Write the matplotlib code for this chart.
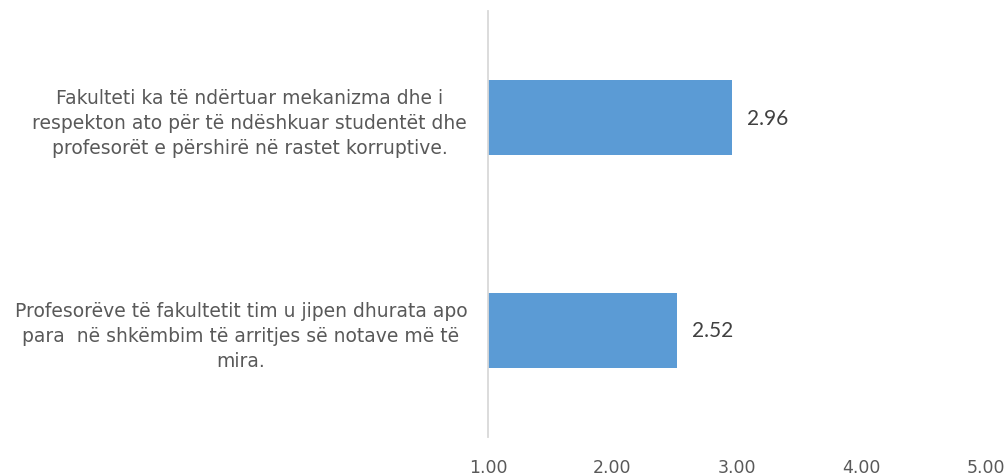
import matplotlib.pyplot as plt

categories = [
    "Fakulteti ka të ndërtuar mekanizma dhe i\nrespekton ato për të ndëshkuar studentët dhe\nprofesorët e përshirë në rastet korruptive.",
    "Profesorëve të fakultetit tim u jipen dhurata apo\npara  në shkëmbim të arritjes së notave më të\nmira.",
]
values = [2.96, 2.52]
x_ticks = [1, 2, 3, 4, 5]

text_color = "#595959"

fig = plt.figure(figsize=(10.08, 4.77), dpi=100)
ax = fig.add_axes([0.4841, 0.0818, 0.978 - 0.4841, 0.9748 - 0.0818])

# bars start at the axis minimum (1.00)
pos = list(range(len(categories)))
bars = ax.barh(pos, [v - 1 for v in values], left=1, height=0.352, color="#5B9BD5")
ax.bar_label(bars, labels=[f"{v:.2f}" for v in values], padding=11,
             fontsize=15, color="#404040", family="Lato")

ax.set_xlim(1, 5)
ax.set_ylim(-0.5, 1.5)
ax.invert_yaxis()
ax.set_xticks(x_ticks)
ax.set_xticklabels([f"{t:.2f}" for t in x_ticks], fontsize=12.5, color=text_color, family="DejaVu Sans")
ax.set_yticks(pos)
ax.set_yticklabels(categories, fontsize=13.5, color=text_color, family="DejaVu Sans", linespacing=1.4)
for lab in ax.get_yticklabels():
    lab.set_multialignment("center")
ax.tick_params(axis="x", length=0, pad=15)
ax.tick_params(axis="y", length=0, pad=15)

for s in ["top", "right", "bottom"]:
    ax.spines[s].set_visible(False)
ax.spines["left"].set_color("#D9D9D9")
ax.spines["left"].set_linewidth(1.3)

fig.savefig("out.png", dpi=100)
